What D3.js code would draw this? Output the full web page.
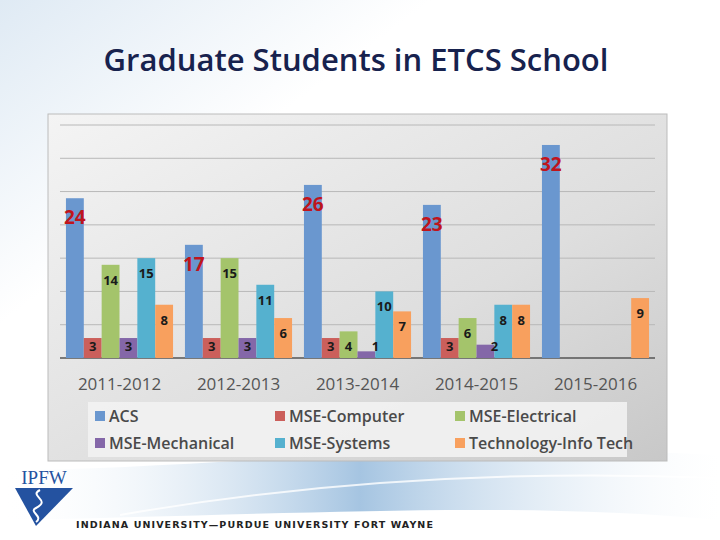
<!DOCTYPE html>
<html>
<head>
<meta charset="utf-8">
<script src="https://cdn.jsdelivr.net/npm/d3@7"></script>
<style>
  body { margin: 0; background: #fff; }
  svg { font-family: "Open Sans", Calibri, sans-serif; }
</style>
</head>
<body>
<svg id="slide" width="720" height="540"></svg>
<script>
const years = ['2011-2012', '2012-2013', '2013-2014', '2014-2015', '2015-2016'];
const seriesNames = ['ACS', 'MSE-Computer', 'MSE-Electrical', 'MSE-Mechanical', 'MSE-Systems', 'Technology-Info Tech'];
const acs = [24, 17, 26, 23, 32];
const mseComputer = [3, 3, 3, 3, null];
const mseElectrical = [14, 15, 4, 6, null];
const mseMechanical = [3, 3, 1, 2, null];
const mseSystems = [15, 11, 10, 8, null];
const techInfo = [8, 6, 7, 8, 9];
const yTicks = [0, 5, 10, 15, 20, 25, 30, 35];
const colors = ['#6a97cf', '#cb5f5b', '#a4c46b', '#8467a8', '#55b1cf', '#f8a05e'];

const allSeries = [acs, mseComputer, mseElectrical, mseMechanical, mseSystems, techInfo];

const svg = d3.select('#slide');
const defs = svg.append('defs');

// slide background swooshes
const bg = defs.append('linearGradient').attr('id', 'bg').attr('x1', 0).attr('y1', 0).attr('x2', 1).attr('y2', 1);
bg.append('stop').attr('offset', '0%').attr('stop-color', '#dfeaf4');
bg.append('stop').attr('offset', '30%').attr('stop-color', '#ffffff');
bg.append('stop').attr('offset', '100%').attr('stop-color', '#ffffff');
svg.append('rect').attr('width', 720).attr('height', 540).attr('fill', 'url(#bg)');

const sw = defs.append('linearGradient').attr('id', 'sw').attr('x1', 0).attr('y1', 0).attr('x2', 1).attr('y2', 0);
sw.append('stop').attr('offset', '0%').attr('stop-color', '#ffffff').attr('stop-opacity', 0);
sw.append('stop').attr('offset', '50%').attr('stop-color', '#8fb6da');
sw.append('stop').attr('offset', '100%').attr('stop-color', '#ffffff').attr('stop-opacity', 0.2);
svg.append('path')
  .attr('d', 'M0,470 C200,470 400,440 720,455 L720,520 C500,500 300,515 0,520 Z')
  .attr('fill', 'url(#sw)').attr('opacity', 0.8);
svg.append('path')
  .attr('d', 'M120,515 C320,480 520,470 720,478')
  .attr('fill', 'none').attr('stroke', '#fff').attr('stroke-width', 2).attr('opacity', 0.8);

// title
svg.append('text').attr('x', 356).attr('y', 71).attr('text-anchor', 'middle')
  .attr('font-size', 31).attr('font-weight', 600).attr('fill', '#17224e').text('Graduate Students in ETCS School');

// chart panel
const panel = defs.append('linearGradient').attr('id', 'panel').attr('x1', 0).attr('y1', 0).attr('x2', 1).attr('y2', 1);
panel.append('stop').attr('offset', '0%').attr('stop-color', '#f4f4f4');
panel.append('stop').attr('offset', '60%').attr('stop-color', '#dedede');
panel.append('stop').attr('offset', '100%').attr('stop-color', '#c8c8c8');
svg.append('rect').attr('x', 48).attr('y', 114).attr('width', 619).attr('height', 347)
  .attr('fill', 'url(#panel)').attr('stroke', '#bbb');

const x0 = d3.scaleBand().domain(years).range([60, 655]).paddingInner(0.1).paddingOuter(0.05);
const x1 = d3.scaleBand().domain(seriesNames).range([0, x0.bandwidth()]);
const y = d3.scaleLinear().domain([0, 35]).range([358, 125]);

svg.append('g').selectAll('line').data(yTicks).join('line')
  .attr('x1', 60).attr('x2', 655)
  .attr('y1', d => y(d)).attr('y2', d => y(d))
  .attr('stroke', d => d === 0 ? '#555' : '#b8b8b8').attr('stroke-width', d => d === 0 ? 1.5 : 1);

const cells = [];
allSeries.forEach((vals, si) => vals.forEach((v, yi) => {
  if (v != null) cells.push({ year: years[yi], s: seriesNames[si], si, v });
}));

svg.append('g').selectAll('rect').data(cells).join('rect')
  .attr('x', d => x0(d.year) + x1(d.s))
  .attr('y', d => y(d.v))
  .attr('width', x1.bandwidth())
  .attr('height', d => y(0) - y(d.v))
  .attr('fill', d => colors[d.si]);

svg.append('g').selectAll('text').data(cells).join('text')
  .attr('x', d => x0(d.year) + x1(d.s) + x1.bandwidth() / 2 + (d.si === 3 && d.v < 3 ? 9 : 0))
  .attr('y', d => d.si === 0 ? y(d.v) + 26 : Math.min(y(d.v) + 20, 351))
  .attr('text-anchor', 'middle')
  .attr('font-size', d => d.si === 0 ? 19 : 13)
  .attr('font-weight', 'bold')
  .attr('fill', d => d.si === 0 ? '#c0141c' : '#1a1a1a')
  .text(d => d.v);

svg.append('g').selectAll('text').data(years).join('text')
  .attr('x', d => x0(d) + x0.bandwidth() / 2).attr('y', 390)
  .attr('text-anchor', 'middle').attr('font-size', 17).attr('fill', '#555').text(d => d);

// legend
svg.append('rect').attr('x', 88).attr('y', 402).attr('width', 539).attr('height', 55)
  .attr('fill', '#f2f2f2').attr('opacity', 0.9);
const lg = svg.append('g').selectAll('g').data(seriesNames).join('g')
  .attr('transform', (d, i) => `translate(${95 + (i % 3) * 180},${416 + Math.floor(i / 3) * 27})`);
lg.append('rect').attr('x', 0).attr('y', -5).attr('width', 10).attr('height', 10).attr('fill', (d, i) => colors[i]);
lg.append('text').attr('x', 14).attr('y', 6).attr('font-size', 16).attr('font-weight', 600)
  .attr('fill', '#4a4a4a').text(d => d);

// logo
const logo = svg.append('g');
logo.append('text').attr('x', 44).attr('y', 484).attr('text-anchor', 'middle')
  .attr('font-family', 'Liberation Serif, serif').attr('font-size', 19).attr('fill', '#2452a0').text('IPFW');
logo.append('path').attr('d', 'M15,488 L73,488 L36,526 Z').attr('fill', '#2452a0');
logo.append('path').attr('d', 'M40,490 C28,496 52,500 36,508 C28,512 44,516 36,522')
  .attr('fill', 'none').attr('stroke', '#fff').attr('stroke-width', 2);
svg.append('text').attr('x', 76).attr('y', 528).attr('font-family', 'DejaVu Sans, sans-serif')
  .attr('font-size', 9.5).attr('font-weight', 'bold').attr('letter-spacing', 1.1).attr('fill', '#222')
  .text('INDIANA UNIVERSITY—PURDUE UNIVERSITY FORT WAYNE');
</script>
</body>
</html>
